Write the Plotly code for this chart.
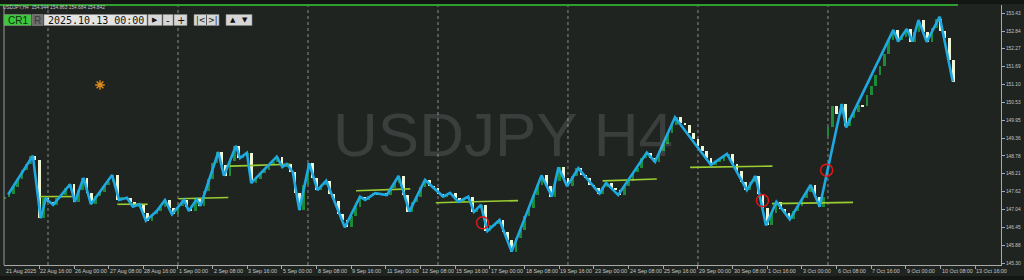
import plotly.graph_objects as go

# ---------------- data ----------------
first_bar = 2
close = [
    147.45, 147.53, 147.78, 148.02, 148.31, 148.52, 148.79, 148.66, 146.76, 147.40,
    147.28, 147.19, 147.42, 147.51, 147.73, 147.86, 147.29, 147.66, 148.07, 147.58,
    147.21, 147.48, 147.60, 147.83, 147.92, 148.16, 147.35, 147.44, 147.42, 147.27,
    147.13, 147.21, 146.92, 146.67, 146.88, 146.99, 147.12, 147.35, 147.08, 146.88,
    147.14, 147.35, 147.12, 146.99, 147.37, 147.16, 147.64, 148.02, 148.55, 148.91,
    148.48, 148.14, 148.63, 149.11, 148.71, 148.79, 148.88, 147.90, 148.02, 148.23,
    148.31, 148.52, 148.60, 148.76, 148.42, 148.52, 148.26, 147.58, 147.02, 147.83,
    148.54, 148.06, 147.67, 147.85, 147.98, 147.54, 147.31, 146.88, 146.71, 146.46,
    146.83, 147.12, 147.46, 147.35, 147.48, 147.57, 147.50, 147.58, 147.51, 147.74,
    147.90, 148.13, 147.52, 146.97, 147.30, 147.46, 147.78, 148.00, 147.82, 147.74,
    147.55, 147.46, 147.54, 147.58, 147.40, 147.29, 147.41, 147.46, 146.96, 147.10,
    147.19, 146.34, 146.52, 146.58, 146.70, 146.31, 146.05, 145.67, 146.10, 146.38,
    146.82, 147.10, 147.52, 147.85, 148.15, 147.79, 147.46, 147.98, 148.41, 148.06,
    147.80, 148.12, 148.38, 148.16, 148.08, 147.85, 147.74, 147.56, 147.77, 147.91,
    147.75, 147.66, 147.51, 147.80, 147.96, 148.25, 148.40, 148.71, 148.89, 148.70,
    148.59, 148.93, 149.16, 149.52, 149.80, 150.04, 149.86, 149.79, 149.52, 149.33,
    149.10, 148.94, 148.70, 148.49, 148.60, 148.63, 148.78, 148.85, 148.52, 148.28,
    147.93, 147.67, 147.92, 148.13, 147.55, 147.10, 146.52, 146.94, 147.29, 147.06,
    146.92, 146.72, 146.98, 147.15, 147.43, 147.60, 147.84, 147.46, 147.13, 147.45,
    149.72, 150.40, 150.15, 150.47, 149.75, 150.00, 150.21, 150.45, 150.40, 150.75,
    151.05, 151.40, 151.70, 152.10, 152.55, 152.88, 152.55, 152.65, 152.91, 152.50,
    152.80, 153.20, 152.80, 152.49, 152.95, 153.25, 152.85, 152.62, 151.90, 151.18,
]
first_open = 147.38
gap_index = [192]
gap_open = [149.42]

zz_index = [
    2.8, 8.5, 10.3, 11.5, 13.2, 17.1, 18.2, 20.2, 21.9, 26.8,
    28.4, 30.2, 31.6, 33.1, 34.6, 37.1, 39.0, 40.6, 43.4, 44.5,
    46.3, 47.2, 51.3, 52.6, 55.4, 56.3, 57.9, 58.9, 64.8, 66.1,
    67.1, 68.5, 70.0, 72.3, 74.2, 76.2, 80.5, 84.0, 85.2, 87.5,
    90.2, 92.9, 95.4, 99.0, 103.2, 104.8, 106.7, 109.0, 110.3, 111.9,
    113.4, 116.2, 119.0, 125.9, 128.3, 129.8, 131.8, 134.4, 139.3, 140.8,
    143.6, 150.2, 152.1, 156.7, 165.0, 168.7, 173.3, 175.3, 177.7, 180.1,
    183.2, 188.0, 190.1, 195.2, 196.2, 197.9, 207.1, 208.2, 210.2, 211.5,
    212.9, 214.8, 217.8, 220.8,
]
zz_price = [
    147.53, 148.79, 146.76, 147.40, 147.19, 147.86, 147.29, 148.07, 147.21, 148.16,
    147.35, 147.42, 147.13, 147.21, 146.67, 146.99, 147.35, 146.88, 147.35, 146.99,
    147.37, 147.16, 148.91, 148.14, 149.11, 148.71, 148.88, 147.90, 148.76, 148.42,
    148.52, 148.26, 147.02, 148.54, 147.67, 147.98, 146.46, 147.46, 147.35, 147.57,
    147.51, 148.13, 146.97, 148.00, 147.46, 147.58, 147.29, 147.46, 146.96, 147.19,
    146.34, 146.70, 145.67, 148.15, 147.46, 148.41, 147.80, 148.38, 147.56, 147.91,
    147.51, 148.89, 148.59, 150.04, 148.49, 148.85, 147.67, 148.13, 146.52, 147.29,
    146.72, 147.84, 147.13, 150.47, 149.71, 150.21, 152.88, 152.50, 152.91, 152.50,
    153.20, 152.49, 153.31, 151.20,
]

lvl_x0 = [10.2, 28.0, 42.1, 54.0, 83.1, 101.5, 140.0, 160.2, 179.1]
lvl_x1 = [17.5, 35.0, 53.6, 68.0, 95.6, 120.5, 152.5, 179.2, 197.8]
lvl_y0 = [147.46, 147.21, 147.39, 148.45, 147.65, 147.26, 147.97, 148.41, 147.23]
lvl_y1 = [147.46, 147.21, 147.43, 148.51, 147.71, 147.33, 148.03, 148.45, 147.27]

sig_index = [112.3, 176.9, 191.7]
sig_price = [146.61, 147.33, 148.32]

icon_index = [24.0]
icon_price = [151.09]

week_index = [12, 42, 72, 102, 132, 162, 192]

y_ticks = [145.30, 145.88, 146.45, 147.04, 147.62, 148.21, 148.78, 149.36,
           149.95, 150.53, 151.10, 151.69, 152.27, 152.84, 153.43]
x_tick_index = [10, 18, 26, 34, 42, 50, 58, 66, 74, 82, 90, 98, 106, 114,
                122, 130, 138, 146, 154, 162, 170, 178, 186, 194, 202, 210, 218, 226]
x_tick_text = ["22 Aug 16:00", "26 Aug 00:00", "27 Aug 08:00", "28 Aug 16:00",
               "1 Sep 00:00", "2 Sep 08:00", "3 Sep 16:00", "5 Sep 00:00",
               "8 Sep 08:00", "9 Sep 16:00", "11 Sep 00:00", "12 Sep 08:00",
               "15 Sep 16:00", "17 Sep 00:00", "18 Sep 08:00", "19 Sep 16:00",
               "23 Sep 00:00", "24 Sep 08:00", "25 Sep 16:00", "29 Sep 00:00",
               "30 Sep 08:00", "1 Oct 16:00", "3 Oct 00:00", "6 Oct 08:00",
               "7 Oct 16:00", "9 Oct 00:00", "10 Oct 08:00", "13 Oct 16:00"]
first_label = "21 Aug 2025"
header_text = "USDJPY,H4  154.944 154.863 154.684 154.842"
watermark = "USDJPY H4"
date_box = "2025.10.13 00:00"

# ---------------- derived candles ----------------
bar_index = [first_bar + i for i in range(len(close))]
opens = []
for i, idx in enumerate(bar_index):
    o = first_open if i == 0 else close[i - 1]
    if idx in gap_index:
        o = gap_open[gap_index.index(idx)]
    opens.append(o)

bull_x, bull_b, bull_h, bear_x, bear_b, bear_h = [], [], [], [], [], []
for idx, o, c in zip(bar_index, opens, close):
    h = max(abs(c - o), 0.02)
    if c >= o:
        bull_x.append(idx); bull_b.append(min(o, c)); bull_h.append(h)
    else:
        bear_x.append(idx); bear_b.append(min(o, c)); bear_h.append(h)

# ---------------- styling helpers (pixel -> paper) ----------------
L, R, T, B = 4, 23, 5, 15
W, H = 1024, 280
PW, PH = W - L - R, H - T - B


def PX(x):
    return (x - L) / PW


def PY(y):
    return (H - B - y) / PH


BG = "#1f2421"
fig = go.Figure()

fig.add_trace(go.Bar(x=bull_x, y=bull_h, base=bull_b, width=0.62,
                     marker=dict(color="#1c8a36", line=dict(width=0)),
                     hoverinfo="skip", showlegend=False))
fig.add_trace(go.Bar(x=bear_x, y=bear_h, base=bear_b, width=0.62,
                     marker=dict(color="#eef6d6", line=dict(width=0)),
                     hoverinfo="skip", showlegend=False))

# horizontal level segments
sx, sy = [], []
for a, b, c, d in zip(lvl_x0, lvl_x1, lvl_y0, lvl_y1):
    sx += [a, b, None]
    sy += [c, d, None]
fig.add_trace(go.Scatter(x=sx, y=sy, mode="lines",
                         line=dict(color="#9acd32", width=1.6),
                         hoverinfo="skip", showlegend=False))

# zigzag line
fig.add_trace(go.Scatter(x=zz_index, y=zz_price, mode="lines",
                         line=dict(color="#1ea9e1", width=2.6),
                         hoverinfo="skip", showlegend=False))

# signal circles
fig.add_trace(go.Scatter(x=sig_index, y=sig_price, mode="markers",
                         marker=dict(symbol="circle-open", size=12,
                                     color="#e01818", line=dict(width=1.5)),
                         hoverinfo="skip", showlegend=False))

# orange icon
fig.add_trace(go.Scatter(x=icon_index, y=icon_price, mode="markers",
                         marker=dict(symbol="asterisk-open", size=8,
                                     color="#e08a1e", line=dict(width=1.4, color="#e08a1e")),
                         hoverinfo="skip", showlegend=False))

shapes = []
for w in week_index:
    shapes.append(dict(type="line", xref="x", yref="paper", x0=w, x1=w, y0=0, y1=1,
                       line=dict(color="#8c8c8c", width=1, dash="dot"), layer="below"))
# top dark strip and green progress line
shapes.append(dict(type="rect", xref="paper", yref="paper", x0=PX(0), x1=PX(W),
                   y0=PY(0), y1=PY(4), fillcolor="#141614", line=dict(width=0)))
shapes.append(dict(type="rect", xref="paper", yref="paper", x0=PX(0), x1=PX(W),
                   y0=PY(276), y1=PY(280), fillcolor="#141614", line=dict(width=0)))
shapes.append(dict(type="line", xref="paper", yref="paper", x0=PX(0), x1=PX(958),
                   y0=PY(5), y1=PY(5), line=dict(color="#2e9e2e", width=2)))
# left border
shapes.append(dict(type="line", xref="paper", yref="paper", x0=0, x1=0,
                   y0=0, y1=PY(6), line=dict(color="#9a9a9a", width=1)))

# toolbar boxes
boxes = [(4, 31, "#3cc83c"), (32, 43, "#6c6c6c"), (44, 147, "#e4e4e4"),
         (148, 162, "#d6d6d6"), (163, 173, "#d6d6d6"), (174, 187, "#d6d6d6"),
         (194, 219, "#d6d6d6"), (226, 252, "#d6d6d6")]
for x0, x1, col in boxes:
    shapes.append(dict(type="rect", xref="paper", yref="paper", x0=PX(x0), x1=PX(x1),
                       y0=PY(25.5), y1=PY(14.5), fillcolor=col,
                       line=dict(color="#8a8a8a", width=0.6)))
shapes.append(dict(type="line", xref="paper", yref="paper", x0=PX(206.5), x1=PX(206.5),
                   y0=PY(25), y1=PY(15), line=dict(color="#555", width=1)))

ann = []
ann.append(dict(x=0.5, y=PY(134), xref="paper", yref="paper", text=watermark,
                showarrow=False, font=dict(family="Liberation Sans", size=62,
                                           color="rgba(255,255,255,0.12)"),
                xanchor="center", yanchor="middle"))
lab_font = dict(family="Liberation Sans", size=5.4, color="#c4c4c4")
ann.append(dict(x=PX(5), y=PY(270.5), xref="paper", yref="paper", text=first_label,
                showarrow=False, font=lab_font, xanchor="left", yanchor="middle", borderpad=0))
for xi, t in zip(x_tick_index, x_tick_text):
    ann.append(dict(x=xi, y=PY(270.5), xref="x", yref="paper", text=t, showarrow=False,
                    font=lab_font, xanchor="left", yanchor="middle", borderpad=0, xshift=0))
ann.append(dict(x=PX(2), y=PY(8), xref="paper", yref="paper", text=header_text,
                showarrow=False, font=dict(family="Liberation Sans", size=4.8, color="#c8c8c8"),
                xanchor="left", yanchor="middle", borderpad=0))

tb = [(17.5, "CR1", "Liberation Sans", 10, "#0e2e0e"),
      (37.5, "R", "Liberation Sans", 10, "#3a3a3a"),
      (95.5, date_box, "DejaVu Sans Mono", 10, "#111111"),
      (155, "▶", "DejaVu Sans", 7, "#111111"),
      (168, "-", "DejaVu Sans", 10, "#111111"),
      (180.5, "+", "DejaVu Sans", 10, "#111111"),
      (200.5, "|<", "DejaVu Sans", 8, "#111111"),
      (212.5, ">|", "DejaVu Sans", 8, "#111111"),
      (233, "▲", "DejaVu Sans", 7, "#111111"),
      (245, "▼", "DejaVu Sans", 7, "#111111")]
for cx, t, fam, sz, col in tb:
    ann.append(dict(x=PX(cx), y=PY(20), xref="paper", yref="paper", text=t, showarrow=False,
                    font=dict(family=fam, size=sz, color=col), xanchor="center",
                    yanchor="middle", borderpad=0))

fig.update_layout(
    width=W, height=H, margin=dict(l=L, r=R, t=T, b=B),
    paper_bgcolor=BG, plot_bgcolor=BG, barmode="overlay", bargap=0,
    shapes=shapes, annotations=ann, showlegend=False,
    xaxis=dict(range=[1.846, 231.94], showgrid=False, zeroline=False,
               tickvals=x_tick_index, showticklabels=False, ticks="outside",
               ticklen=3, tickcolor="#a8a8a8", showline=True, linecolor="#a8a8a8",
               linewidth=1, fixedrange=True),
    yaxis=dict(range=[145.235, 153.69], side="right", showgrid=False, zeroline=False,
               tickvals=y_ticks, ticktext=["%.2f" % v for v in y_ticks],
               tickfont=dict(family="Liberation Sans", size=4.8, color="#c4c4c4"),
               ticks="outside", ticklen=3, tickcolor="#a8a8a8", showline=True,
               linecolor="#a8a8a8", linewidth=1, fixedrange=True),
)

fig.write_html("out.html", config={"displayModeBar": False})
